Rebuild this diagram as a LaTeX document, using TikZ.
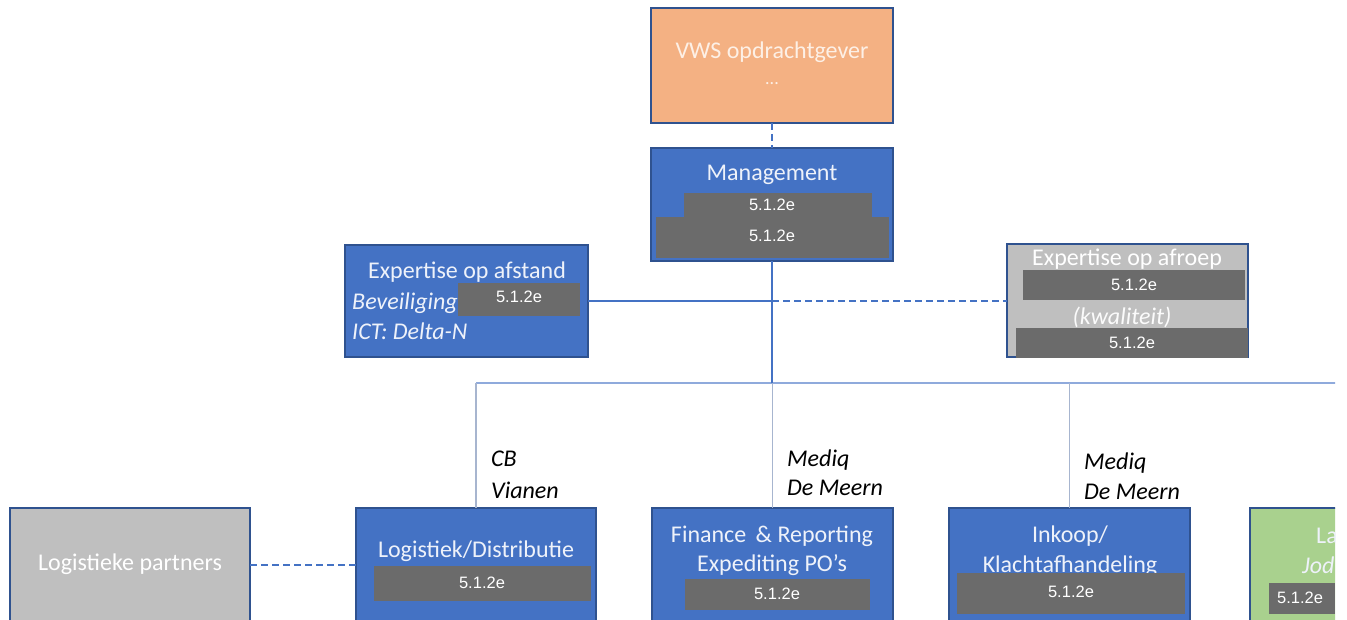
\documentclass[tikz,border=0pt]{standalone}
\usepackage{fontspec}
\setmainfont{Carlito}
\newfontfamily\arialf{Liberation Sans}
\definecolor{bluefill}{HTML}{4472C4}
\definecolor{bordc}{HTML}{2F528F}
\definecolor{orangefill}{HTML}{F4B183}
\definecolor{lgray}{HTML}{BFBFBF}
\definecolor{dgray}{HTML}{6B6B6B}
\definecolor{greenfill}{HTML}{A9D18E}
\definecolor{wtxt}{HTML}{EEF2FA}
\definecolor{otxt}{HTML}{FDF0E6}
\definecolor{lline}{HTML}{8FAADC}
\definecolor{dropc}{HTML}{A7B5CF}
\begin{document}
\begin{tikzpicture}[x=1pt,y=-1pt,
  card/.style={draw=bordc,line width=1.5pt,inner sep=0pt,outer sep=0pt,anchor=north west},
  bcard/.style={card,fill=bluefill},
  bigf/.style={font=\fontsize{24}{28}\selectfont},
  ttl/.style={text=wtxt,inner sep=0pt,bigf},
  itl/.style={text=wtxt,inner sep=0pt,font=\fontsize{24}{28}\selectfont\itshape},
  lbl/.style={text=black,inner sep=0pt,font=\fontsize{24}{28}\selectfont\itshape,anchor=west},
  gbox/.style={fill=dgray,inner sep=0pt,outer sep=0pt,anchor=north west},
  gtxt/.style={text=white,inner sep=0pt,font=\arialf\fontsize{16.5}{19}\selectfont},
  mainline/.style={draw=bluefill,line width=2.2pt},
  lightline/.style={draw=lline,line width=1.8pt},
  dropline/.style={draw=dropc,line width=1.4pt},
  dashline/.style={draw=bluefill,line width=2pt,dash pattern=on 7pt off 4pt}
]
\useasboundingbox (0,0) rectangle (1347,620);
\clip (0,0) rectangle (1335,620);

% top
\node[card,fill=orangefill,minimum width=242pt,minimum height=115pt] (vws) at (651,8) {};
\node[text=otxt,inner sep=0pt,bigf] (vwsT) at (772,52) {VWS opdrachtgever};
\node[text=otxt,inner sep=0pt,font=\fontsize{18}{20}\selectfont] (vwsD) at (772,84) {...};

\node[bcard,minimum width=242pt,minimum height=113pt] (mgmt) at (651,148) {};
\node[ttl] (mgmtT) at (772,175) {Management};
\node[gbox,minimum width=233pt,minimum height=41pt] (mg2) at (656,217) {};
\node[gbox,minimum width=188pt,minimum height=26pt] (mg1) at (684,193) {};
\node[gtxt] (mg1T) at (772,205) {5.1.2e};
\node[gtxt] (mg2T) at (772,236) {5.1.2e};

% expertise op afstand
\node[bcard,minimum width=243pt,minimum height=112pt] (afst) at (345,245) {};
\node[ttl] (afstT) at (467,272) {Expertise op afstand};
\node[itl,anchor=west] (afstB) at (352,303) {Beveiliging};
\node[itl,anchor=west] (afstI) at (352,331) {ICT: Delta-N};
\node[gbox,minimum width=122pt,minimum height=33pt] (afstG) at (458,283) {};
\node[gtxt] (afstGT) at (519,297) {5.1.2e};

% expertise op afroep
\node[card,fill=lgray,minimum width=241pt,minimum height=113pt] (afr) at (1007,244) {};
\node[text=white,inner sep=0pt,bigf] (afrT) at (1127,259) {Expertise op afroep};
\node[gbox,minimum width=222pt,minimum height=30pt] (afrG1) at (1023,270) {};
\node[gtxt] (afrG1T) at (1134,285) {5.1.2e};
\node[text=white!94!lgray,inner sep=0pt,font=\fontsize{24}{28}\selectfont\itshape] (afrK) at (1122,317) {(kwaliteit)};
\node[gbox,minimum width=232pt,minimum height=30pt] (afrG2) at (1016,328) {};
\node[gtxt] (afrG2T) at (1132,343) {5.1.2e};

% bottom row
\node[card,fill=lgray,minimum width=240pt,minimum height=114pt] (partn) at (10,508) {};
\node[text=white,inner sep=0pt,bigf] (partnT) at (130,564) {Logistieke partners};

\node[bcard,minimum width=240pt,minimum height=114pt] (logi) at (356,508) {};
\node[ttl] (logiT) at (476,551) {Logistiek/Distributie};
\node[gbox,minimum width=217pt,minimum height=35pt] (logiG) at (374,566) {};
\node[gtxt] (logiGT) at (482,583) {5.1.2e};

\node[bcard,minimum width=241pt,minimum height=114pt] (fin) at (652,508) {};
\node[ttl] (finT1) at (772,536) {Finance \,\& Reporting};
\node[ttl] (finT2) at (772,565) {Expediting PO’s};
\node[gbox,minimum width=185pt,minimum height=31pt] (finG) at (685,579) {};
\node[gtxt] (finGT) at (777,594) {5.1.2e};

\node[bcard,minimum width=241pt,minimum height=114pt] (ink) at (949,508) {};
\node[ttl] (inkT1) at (1070,536) {Inkoop/};
\node[ttl] (inkT2) at (1070,566) {Klachtafhandeling};
\node[gbox,minimum width=228pt,minimum height=41pt] (inkG) at (957,573) {};
\node[gtxt] (inkGT) at (1071,592) {5.1.2e};

\node[card,fill=greenfill,minimum width=240pt,minimum height=114pt] (grn) at (1250,508) {};
\node[ttl,anchor=west] (grnT1) at (1316,536) {La};
\node[itl,anchor=west] (grnT2) at (1302,565) {Jod};
\node[gbox,minimum width=66pt,minimum height=31pt] (grnG) at (1269,583) {};
\node[gtxt] (grnGT) at (1300,598) {5.1.2e};

% labels
\node[lbl] (cb1) at (491,459) {CB};
\node[lbl] (cb2) at (491,490) {Vianen};
\node[lbl] (md1) at (787,460) {Mediq};
\node[lbl] (md2) at (787,488) {De Meern};
\node[lbl] (mi1) at (1084,463) {Mediq};
\node[lbl] (mi2) at (1084,492) {De Meern};

% connectors
\coordinate (hub) at (mgmt.south |- 0,383);
\coordinate (exphub) at (afst.east -| mgmt.south);
\draw[dashline] (vws.south) -- (mgmt.north);
\draw[mainline] (afst.east) -- (exphub);
\draw[dashline] (exphub) -- (exphub -| afr.west);
\draw[lightline] (logi.north |- hub) -- (grn.north |- hub);
\draw[mainline] (mgmt.south) -- (hub);
\draw[dropline] (logi.north |- hub) -- (logi.north);
\draw[dropline] (fin.north |- hub) -- (fin.north);
\draw[dropline] (ink.north |- hub) -- (ink.north);
\draw[dashline,line width=1.5pt] (partn.east) -- (logi.west);
\end{tikzpicture}
\end{document}
